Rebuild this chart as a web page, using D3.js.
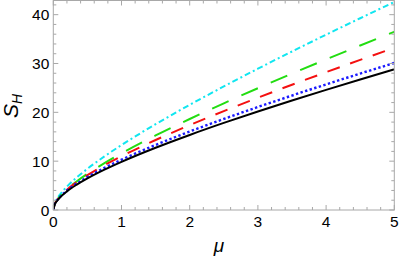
<!DOCTYPE html>
<html>
<head>
<meta charset="utf-8">
<script src="https://cdn.jsdelivr.net/npm/d3@7"></script>
<style>
  html, body { margin: 0; padding: 0; background: #fff; }
  svg { display: block; font-family: "Liberation Sans", Arial, sans-serif; }
</style>
</head>
<body>
<div id="chart"></div>
<script>
// values
const mu = [0, 0.02, 0.05, 0.1, 0.2, 0.35, 0.5, 0.75, 1, 1.5, 2, 2.5, 3, 3.5, 4, 4.5, 5];
const black = [0, 1.10, 1.78, 2.59, 3.81, 5.24, 6.47, 8.26, 9.86, 12.75, 15.37, 17.83, 20.17, 22.42, 24.60, 26.72, 28.8];
const blue  = [0, 1.15, 1.86, 2.70, 3.97, 5.48, 6.75, 8.62, 10.3, 13.32, 16.07, 18.64, 21.09, 23.44, 25.72, 27.94, 30.1];
const red   = [0, 1.18, 1.92, 2.81, 4.15, 5.76, 7.13, 9.17, 11.0, 14.33, 17.38, 20.25, 23.0, 25.65, 28.22, 30.73, 33.2];
const green = [0, 1.18, 1.93, 2.84, 4.24, 5.94, 7.41, 9.60, 11.6, 15.26, 18.64, 21.85, 24.94, 27.93, 30.84, 33.69, 36.5];
const cyan  = [0, 1.32, 2.17, 3.20, 4.80, 6.75, 8.44, 10.98, 13.3, 17.57, 21.53, 25.30, 28.93, 32.46, 35.90, 39.27, 42.6];

const xTicks = [0, 1, 2, 3, 4, 5];
const yTicks = [0, 10, 20, 30, 40];

const series = [
  { values: black, color: '#000000', dash: null,        width: 2 },
  { values: blue,  color: '#1a1aff', dash: '2.4,2.4',   width: 2.4 },
  { values: red,   color: '#f41010', dash: '13,11',     width: 2 },
  { values: green, color: '#22dd11', dash: '18,14',     width: 2 },
  { values: cyan,  color: '#11e6f0', dash: '6,3,2,3',   width: 2 }
];

const W = 399, H = 266;
const margin = { top: 0.5, right: 4.7, bottom: 56, left: 53.3 };
const width  = W - margin.left - margin.right;
const height = H - margin.top - margin.bottom;

const svg = d3.select('#chart').append('svg')
  .attr('width', W).attr('height', H);

const g = svg.append('g')
  .attr('transform', `translate(${margin.left},${margin.top})`);

const x = d3.scaleLinear().domain([0, 5]).range([0, width]);
const y = d3.scaleLinear().domain([0, 42.9]).range([height, 0]);

// clip to the frame
svg.append('defs').append('clipPath').attr('id', 'clip')
  .append('rect').attr('width', width).attr('height', height);

const line = d3.line()
  .x((d, i) => x(mu[i]))
  .y(d => y(d))
  .curve(d3.curveMonotoneX);

const curves = g.append('g').attr('clip-path', 'url(#clip)');
// draw back to front so black ends on top
series.slice().reverse().forEach(s => {
  curves.append('path')
    .datum(s.values)
    .attr('fill', 'none')
    .attr('stroke', s.color)
    .attr('stroke-width', s.width)
    .attr('stroke-dasharray', s.dash)
    .attr('d', line);
});

// frame with inward ticks on all four sides
const frameColor = '#a8a8a8';
const xMinor = d3.range(0, 5.001, 0.2);
const yMinor = d3.range(0, 42.9, 2);

const ticks = g.append('g').attr('stroke', frameColor).attr('stroke-width', 1);
xMinor.forEach(v => {
  const major = Math.abs(v - Math.round(v)) < 1e-6;
  const len = major ? 5 : 3;
  ticks.append('line').attr('x1', x(v)).attr('x2', x(v)).attr('y1', height).attr('y2', height - len);
  ticks.append('line').attr('x1', x(v)).attr('x2', x(v)).attr('y1', 0).attr('y2', len);
});
yMinor.forEach(v => {
  const major = v % 10 === 0;
  const len = major ? 5 : 3;
  ticks.append('line').attr('y1', y(v)).attr('y2', y(v)).attr('x1', 0).attr('x2', len);
  ticks.append('line').attr('y1', y(v)).attr('y2', y(v)).attr('x1', width).attr('x2', width - len);
});

g.append('rect')
  .attr('width', width).attr('height', height)
  .attr('fill', 'none').attr('stroke', frameColor).attr('stroke-width', 1);

// tick labels
g.selectAll('.xl').data(xTicks).enter().append('text')
  .attr('x', d => x(d)).attr('y', height + 17)
  .attr('text-anchor', 'middle')
  .attr('font-size', 15.5)
  .text(d => d);

g.selectAll('.yl').data(yTicks).enter().append('text')
  .attr('x', -4).attr('y', d => y(d) + 5.5)
  .attr('text-anchor', 'end')
  .attr('font-size', 15.5)
  .text(d => d);

// axis titles
svg.append('text')
  .attr('x', 219).attr('y', 252)
  .attr('text-anchor', 'middle')
  .attr('font-size', 19)
  .attr('font-style', 'italic')
  .text('μ');

const yt = svg.append('text')
  .attr('transform', 'translate(18,106) rotate(-90)')
  .attr('text-anchor', 'middle')
  .attr('font-size', 21)
  .attr('font-style', 'italic');
yt.append('tspan').text('S');
yt.append('tspan').attr('font-size', 14).attr('dy', 4).text('H');
</script>
</body>
</html>
